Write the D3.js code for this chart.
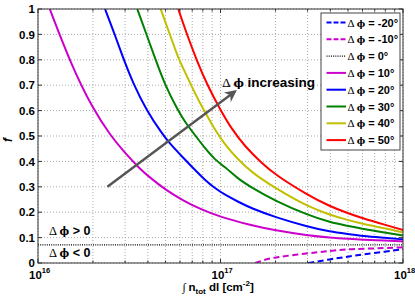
<!DOCTYPE html>
<html>
<head>
<meta charset="utf-8">
<script src="https://cdn.jsdelivr.net/npm/d3@7"></script>
<style>
    body { margin: 0; background: #fff; }
    text { font-family: "Liberation Sans", Arial, sans-serif; font-weight: bold; fill: #000; }
    .sym { font-family: "Liberation Serif", "DejaVu Serif", serif; font-weight: normal; }
    .phi { font-family: "DejaVu Serif", "Liberation Serif", serif; font-weight: bold; font-size: 0.82em; }
</style>
</head>
<body>
<div id="chart"></div>
<script>
// tick values / labels
var yTicks = [0, 0.1, 0.2, 0.3, 0.4, 0.5, 0.6, 0.7, 0.8, 0.9, 1];
var yTickLabels = ["0", "0.1", "0.2", "0.3", "0.4", "0.5", "0.6", "0.7", "0.8", "0.9", "1"];
var xMajor = [1e16, 1e17, 1e18];
var xExpLabels = ["16", "17", "18"];

// series (N in cm^-2, f)
var legendNames = ["-20\u00b0", "-10\u00b0", "0\u00b0", "10\u00b0", "20\u00b0", "30\u00b0", "40\u00b0", "50\u00b0"];

var nM20 = [3.03e17, 4e17, 5e17, 6e17, 8e17, 1e18];
var fM20 = [0, 0.015, 0.025, 0.034, 0.045, 0.054];

var nM10 = [1.55e17, 1.75e17, 2e17, 3e17, 4e17, 5e17, 6e17, 8e17, 1e18];
var fM10 = [0, 0.013, 0.023, 0.038, 0.048, 0.054, 0.056, 0.059, 0.062];

var nZero = [1e16, 1e18];
var fZero = [0.071, 0.071];

var n10 = [1.16e16, 1.5e16, 2.0e16, 2.5e16, 2.93e16, 3.62e16, 4.11e16, 5.07e16, 6.25e16, 7.72e16, 1e17, 1.41e17, 2e17, 3e17, 4e17, 5e17, 6e17, 8e17, 1e18];
var f10 = [1.0, 0.79, 0.605, 0.502, 0.441, 0.370, 0.336, 0.285, 0.246, 0.213, 0.181, 0.152, 0.128, 0.109, 0.100, 0.095, 0.092, 0.088, 0.085];

var n20 = [2.33e16, 2.64e16, 2.93e16, 3.33e16, 3.94e16, 4.76e16, 5.3e16, 6.0e16, 7.24e16, 8.22e16, 9.33e16, 1.06e17, 1.25e17, 1.48e17, 2e17, 3e17, 4e17, 5e17, 6e17, 8e17, 1e18];
var f20 = [1.0, 0.898, 0.806, 0.705, 0.600, 0.512, 0.468, 0.428, 0.366, 0.327, 0.294, 0.268, 0.241, 0.215, 0.180, 0.143, 0.123, 0.114, 0.106, 0.099, 0.093];

var n30 = [3.5e16, 3.94e16, 4.38e16, 4.97e16, 5.87e16, 6.38e16, 7.24e16, 8.22e16, 9.33e16, 1.06e17, 1.25e17, 1.48e17, 2e17, 3e17, 4e17, 5e17, 6e17, 8e17, 1e18];
var f30 = [1.0, 0.898, 0.806, 0.700, 0.598, 0.556, 0.504, 0.452, 0.406, 0.378, 0.331, 0.297, 0.244, 0.189, 0.160, 0.146, 0.134, 0.119, 0.108];

var n40 = [4.7e16, 5.29e16, 5.87e16, 6.38e16, 7.24e16, 8.05e16, 9.33e16, 1.06e17, 1.25e17, 1.48e17, 2e17, 3e17, 4e17, 5e17, 6e17, 8e17, 1e18];
var f40 = [1.0, 0.898, 0.806, 0.753, 0.668, 0.605, 0.524, 0.465, 0.407, 0.357, 0.294, 0.222, 0.189, 0.169, 0.154, 0.137, 0.120];

var n50 = [5.87e16, 6.53e16, 7.43e16, 8.43e16, 1e17, 1.15e17, 1.36e17, 1.68e17, 2e17, 3e17, 4e17, 5e17, 6e17, 8e17, 1e18];
var f50 = [1.0, 0.902, 0.796, 0.703, 0.602, 0.528, 0.459, 0.394, 0.347, 0.268, 0.222, 0.196, 0.176, 0.150, 0.130];

// annotation anchors (data units)
var arrowFrom = [2.4e16, 0.30];
var arrowTo = [1.2e17, 0.675];

window.onload = function () {
    var width = 415, height = 298;
    var margin = {top: 9, right: 12, bottom: 35, left: 38};
    var pw = width - margin.left - margin.right,
        ph = height - margin.top - margin.bottom;

    var series = [
        {n: nM20, f: fM20, color: "#0000ff", dash: "6,3.5", w: 2},
        {n: nM10, f: fM10, color: "#cc00cc", dash: "6,3.5", w: 2},
        {n: nZero, f: fZero, color: "#000000", dash: "1,1.2", w: 1.3},
        {n: n10, f: f10, color: "#cc00cc", dash: null, w: 2},
        {n: n20, f: f20, color: "#0000ff", dash: null, w: 2},
        {n: n30, f: f30, color: "#008000", dash: null, w: 2},
        {n: n40, f: f40, color: "#c0c000", dash: null, w: 2},
        {n: n50, f: f50, color: "#ff0000", dash: null, w: 2}
    ];

    var svg = d3.select("#chart").append("svg")
        .attr("width", width)
        .attr("height", height);

    var g = svg.append("g")
        .attr("transform", "translate(" + margin.left + "," + margin.top + ")");

    var x = d3.scaleLog().domain([1e16, 1e18]).range([0, pw]);
    var y = d3.scaleLinear().domain([0, 1]).range([ph, 0]);

    svg.append("defs").append("clipPath").attr("id", "clip")
        .append("rect").attr("width", pw).attr("height", ph);

    var xGrid = x.ticks();

    // grid
    g.append("g").selectAll("line").data(xGrid).enter().append("line")
        .attr("x1", d => x(d)).attr("x2", d => x(d))
        .attr("y1", 0).attr("y2", ph)
        .style("stroke", "#aaa").style("stroke-dasharray", "1,2");
    g.append("g").selectAll("line").data(yTicks).enter().append("line")
        .attr("x1", 0).attr("x2", pw)
        .attr("y1", d => y(d)).attr("y2", d => y(d))
        .style("stroke", "#aaa").style("stroke-dasharray", "1,2");

    // curves
    var line = d3.line()
        .x(d => x(d[0]))
        .y(d => y(d[1]))
        .curve(d3.curveBasis);

    g.append("g").attr("clip-path", "url(#clip)")
        .selectAll("path").data(series).enter().append("path")
        .attr("d", s => line(s.n.map((v, i) => [v, s.f[i]])))
        .style("fill", "none")
        .style("stroke", s => s.color)
        .style("stroke-width", s => s.w)
        .style("stroke-dasharray", s => s.dash);

    // arrow
    svg.select("defs").append("marker")
        .attr("id", "head").attr("viewBox", "0 0 10 10")
        .attr("refX", 8).attr("refY", 5)
        .attr("markerWidth", 5).attr("markerHeight", 5)
        .attr("markerUnits", "strokeWidth")
        .attr("orient", "auto")
        .append("path").attr("d", "M0,0 L10,5 L0,10 L3,5 Z").style("fill", "#555");

    g.append("line")
        .attr("x1", x(arrowFrom[0])).attr("y1", y(arrowFrom[1]))
        .attr("x2", x(arrowTo[0])).attr("y2", y(arrowTo[1]))
        .style("stroke", "#555").style("stroke-width", 2.4)
        .attr("marker-end", "url(#head)");

    // annotations
    function dphiText(sel, px, py, rest, size) {
        var t = sel.append("text").attr("x", px).attr("y", py).style("font-size", size + "px");
        t.append("tspan").attr("class", "sym").text("\u0394 ");
        t.append("tspan").attr("class", "phi").text("\u03d5");
        t.append("tspan").text(rest);
        return t;
    }
    dphiText(g, x(1.02e17), y(0.693), " increasing", 13.5);
    dphiText(g, x(1.15e16), y(0.11), " > 0", 12.5);
    dphiText(g, x(1.15e16), y(0.024), " < 0", 12.5);

    // axes box
    g.append("rect").attr("width", pw).attr("height", ph)
        .style("fill", "none").style("stroke", "#333").style("stroke-width", 1);

    // ticks, inward on all four sides
    var tk = g.append("g").style("stroke", "#333");
    xGrid.forEach(function (d) {
        var len = xMajor.indexOf(d) >= 0 ? 4 : 2.5;
        tk.append("line").attr("x1", x(d)).attr("x2", x(d)).attr("y1", ph).attr("y2", ph - len);
        tk.append("line").attr("x1", x(d)).attr("x2", x(d)).attr("y1", 0).attr("y2", len);
    });
    yTicks.forEach(function (d) {
        tk.append("line").attr("x1", 0).attr("x2", 4).attr("y1", y(d)).attr("y2", y(d));
        tk.append("line").attr("x1", pw).attr("x2", pw - 4).attr("y1", y(d)).attr("y2", y(d));
    });

    // y tick labels
    g.append("g").selectAll("text").data(yTicks).enter().append("text")
        .attr("x", -3).attr("y", d => y(d)).attr("dy", "0.36em")
        .style("text-anchor", "end").style("font-size", "11.5px")
        .text((d, i) => yTickLabels[i]);

    // x tick labels 10^n
    xMajor.forEach(function (d, i) {
        var t = g.append("text").attr("x", x(d) - 9).attr("y", ph + 16).style("font-size", "11.5px");
        t.append("tspan").text("10");
        t.append("tspan").attr("dy", -6).style("font-size", "7.5px").text(xExpLabels[i]);
    });

    // axis titles
    var xl = g.append("text").attr("x", pw / 2 - 38).attr("y", ph + 28).style("font-size", "11.5px");
    xl.append("tspan").attr("class", "sym").text("\u222b ");
    xl.append("tspan").text("n");
    xl.append("tspan").attr("dy", 3).style("font-size", "8px").text("tot");
    xl.append("tspan").attr("dy", -3).text(" dl [cm");
    xl.append("tspan").attr("dy", -5).style("font-size", "8px").text("-2");
    xl.append("tspan").attr("dy", 5).text("]");

    g.append("text")
        .attr("transform", "translate(" + (-26) + "," + (ph / 2 + 4) + ") rotate(-90)")
        .style("text-anchor", "middle").style("font-size", "12px").style("font-style", "italic")
        .text("f");

    // legend
    var lg = g.append("g").attr("transform", "translate(" + (321 - margin.left) + "," + (13 - margin.top) + ")");
    lg.append("rect").attr("width", 79).attr("height", 137)
        .style("fill", "#fff").style("stroke", "#444").style("stroke-width", 1);
    series.forEach(function (s, i) {
        var cy = 9.5 + i * 16.8;
        lg.append("line").attr("x1", 5.5).attr("x2", 25).attr("y1", cy).attr("y2", cy)
            .style("stroke", s.color).style("stroke-width", s.w)
            .style("stroke-dasharray", s.dash ? (s.w > 1.5 ? "5,2" : "1,1.2") : null);
        dphiText(lg, 26.5, cy + 4, " = " + legendNames[i], 11);
    });
};
</script>
</body>
</html>
